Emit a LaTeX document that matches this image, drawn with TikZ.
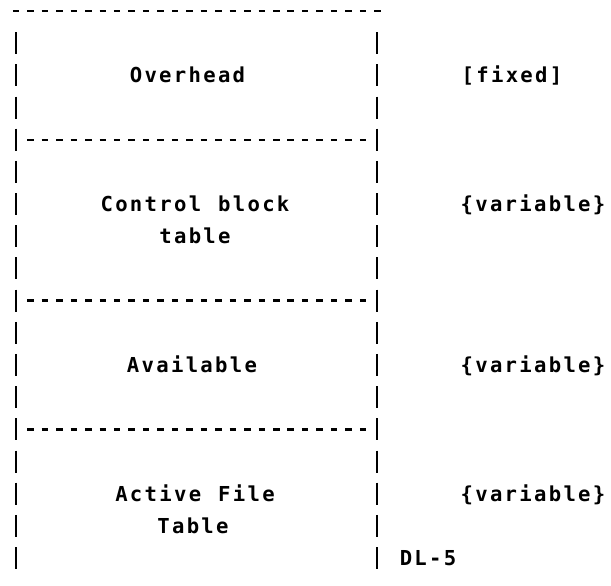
\documentclass[tikz,border=0pt]{standalone}
\usepackage{fontspec}
\newfontfamily\printfont{DejaVu Sans Mono}
% set each character in a fixed-width cell, as a line printer does
\ExplSyntaxOn
\NewDocumentCommand\pitch{m}
  { \tl_map_inline:nn {#1} { \makebox[14.7pt]{##1} } }
\ExplSyntaxOff
\begin{document}
\begin{tikzpicture}[x=1pt,y=-1pt,
  txt/.style={anchor=base, inner sep=0pt, text=black,
    font=\printfont\bfseries\fontsize{20.6}{20.6}\selectfont},
  rule/.style={line width=2.4pt, dash pattern=on 6.5pt off 7.96pt},
  wall/.style={line width=2.3pt, dash pattern=on 22pt off 10.18pt}]
\useasboundingbox (0,0) rectangle (611,586);

% side walls, one bar per printed line
\coordinate (lt) at (16,32.18);  \coordinate (lb) at (16,569.06);
\coordinate (rt) at (377,32.18); \coordinate (rb) at (377,569.06);
\draw[wall] (lt) -- (lb);
\draw[wall] (rt) -- (rb);

% top edge and section separators
\coordinate (t0) at (12.75,11);   \coordinate (t1) at (380.5,11);
\coordinate (s1a) at (27.2,139.72); \coordinate (s1b) at (367,139.72);
\coordinate (s2a) at (27.2,300.62); \coordinate (s2b) at (367,300.62);
\coordinate (s3a) at (27.2,429.34); \coordinate (s3b) at (367,429.34);
\draw[rule] (t0) -- (t1);
\draw[rule] (s1a) -- (s1b);
\draw[rule] (s2a) -- (s2b);
\draw[rule] (s3a) -- (s3b);

% section contents
\node[txt] (overhead) at (187.5,82.9)  {\pitch{Overhead}};
\node[txt] (cbt1)     at (195,211.6)   {\pitch{Control~block}};
\node[txt] (cbt2)     at (195,243.8)   {\pitch{table}};
\node[txt] (avail)    at (192,372.5)   {\pitch{Available}};
\node[txt] (aft1)     at (195,501.2)   {\pitch{Active~File}};
\node[txt] (aft2)     at (193,533.4)   {\pitch{Table}};

% size notes on the right
\node[txt] (fixed)    at (512,82.9)    {\pitch{[fixed]}};
\node[txt] (var1)     at (533,211.6)   {\pitch{\{variable\}}};
\node[txt] (var2)     at (533,372.5)   {\pitch{\{variable\}}};
\node[txt] (var3)     at (533,501.2)   {\pitch{\{variable\}}};
\node[txt] (dl)       at (428,565.6)   {\pitch{DL-5}};
\end{tikzpicture}
\end{document}
